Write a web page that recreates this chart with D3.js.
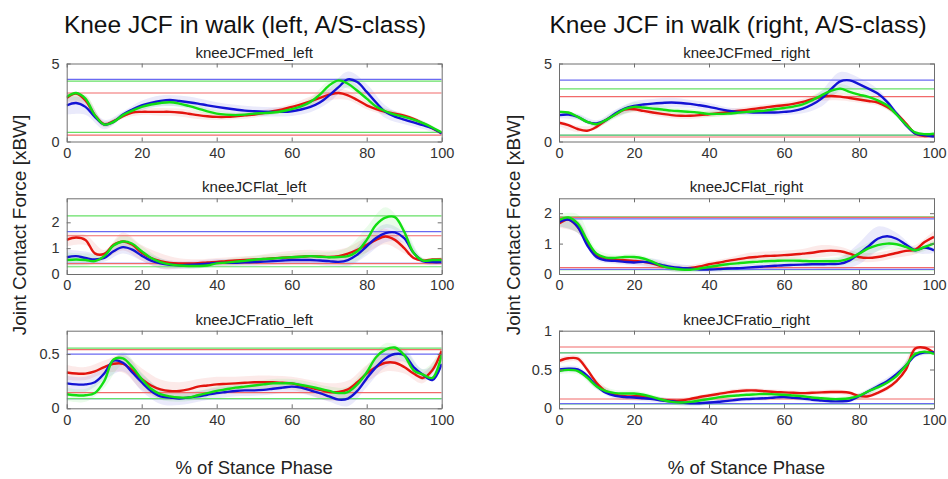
<!DOCTYPE html>
<html>
<head>
<meta charset="utf-8">
<script src="https://cdn.jsdelivr.net/npm/d3@7"></script>
<style>
body { margin: 0; background: #fff; }
text { font-family: "Liberation Sans", Arial, Helvetica, sans-serif; }
</style>
</head>
<body>
<script>
// % of stance phase, mean curves are sampled every 2.5 %, the SD bands every 5 %
var xPct = [0,2.5,5,7.5,10,12.5,15,17.5,20,22.5,25,27.5,30,32.5,35,37.5,40,42.5,45,47.5,50,
            52.5,55,57.5,60,62.5,65,67.5,70,72.5,75,77.5,80,82.5,85,87.5,90,92.5,95,97.5,100];
var xSd = [0,5,10,15,20,25,30,35,40,45,50,55,60,65,70,75,80,85,90,95,100];
var xTicks = [0,20,40,60,80,100];

// kneeJCFmed_left
var medLeftRed = [2.79,3.07,2.64,1.69,1.11,1.31,1.62,1.86,1.90,1.90,1.90,1.90,1.86,1.78,1.69,1.62,1.58,1.58,1.62,1.68,1.73,
                  1.82,1.94,2.06,2.22,2.38,2.58,2.80,3.00,3.11,2.96,2.66,2.32,2.08,1.90,1.78,1.65,1.45,1.16,0.85,0.52];
var medLeftBlue = [2.32,2.47,2.22,1.58,1.09,1.26,1.73,2.05,2.32,2.48,2.60,2.66,2.60,2.52,2.43,2.32,2.22,2.13,2.05,1.98,1.94,
                   1.91,1.90,1.90,1.94,2.05,2.22,2.50,2.96,3.49,3.98,3.81,3.18,2.50,1.90,1.60,1.40,1.22,1.05,0.85,0.52];
var medLeftGreen = [2.86,3.11,2.75,1.69,1.09,1.26,1.69,1.98,2.22,2.37,2.47,2.52,2.43,2.28,2.11,1.93,1.79,1.72,1.69,1.72,1.79,
                    1.82,1.86,1.94,2.07,2.25,2.54,3.00,3.60,3.92,3.70,3.25,2.75,2.25,1.94,1.72,1.58,1.40,1.18,0.90,0.58];
var medLeftSdRed = [0.3,0.3,0.2,0.15,0.2,0.25,0.25,0.25,0.2,0.2,0.2,0.2,0.2,0.3,0.35,0.3,0.25,0.2,0.15,0.15,0.1];
var medLeftSdBlue = [0.6,0.5,0.3,0.2,0.3,0.35,0.35,0.35,0.3,0.3,0.3,0.3,0.3,0.35,0.45,0.5,0.5,0.4,0.3,0.25,0.1];
var medLeftSdGreen = [0.25,0.25,0.15,0.15,0.2,0.2,0.2,0.2,0.2,0.15,0.15,0.15,0.15,0.25,0.3,0.3,0.25,0.2,0.15,0.15,0.1];
var medLeftRefs = [["blue",3.98],["green",3.87],["red",3.11],["green",0.58],["red",0.41]];

// kneeJCFmed_right
var medRightRed = [1.20,1.05,0.80,0.69,0.94,1.37,1.73,2.05,2.07,1.96,1.86,1.77,1.69,1.65,1.65,1.69,1.75,1.81,1.88,1.96,2.03,
                   2.11,2.18,2.26,2.32,2.41,2.54,2.71,2.86,2.92,2.88,2.79,2.69,2.60,2.50,2.22,1.79,1.16,0.52,0.35,0.41];
var medRightBlue = [1.69,1.73,1.58,1.26,1.16,1.37,1.79,2.11,2.28,2.37,2.43,2.47,2.50,2.47,2.41,2.32,2.22,2.09,1.98,1.90,1.88,
                    1.86,1.86,1.86,1.90,1.96,2.11,2.37,2.75,3.34,3.85,3.92,3.68,3.39,3.07,2.54,1.79,1.05,0.52,0.41,0.31];
var medRightGreen = [1.90,1.86,1.58,1.26,1.11,1.37,1.73,2.07,2.22,2.18,2.11,2.05,1.98,1.94,1.90,1.84,1.77,1.77,1.79,1.84,1.90,
                     1.94,1.98,2.07,2.15,2.24,2.38,2.64,2.96,3.24,3.39,3.18,3.01,2.86,2.64,2.32,1.73,1.09,0.58,0.47,0.50];
var medRightSdRed = [0.2,0.2,0.15,0.15,0.2,0.2,0.2,0.2,0.2,0.2,0.2,0.2,0.2,0.2,0.25,0.25,0.2,0.2,0.15,0.1,0.1];
var medRightSdBlue = [0.2,0.2,0.2,0.25,0.3,0.3,0.3,0.25,0.25,0.2,0.2,0.2,0.2,0.3,0.5,0.6,0.4,0.3,0.2,0.1,0.1];
var medRightSdGreen = [0.15,0.15,0.15,0.25,0.3,0.25,0.2,0.2,0.2,0.15,0.15,0.15,0.15,0.2,0.3,0.3,0.25,0.2,0.15,0.1,0.1];
var medRightRefs = [["blue",3.94],["green",3.37],["red",2.88],["blue",0.40],["green",0.41],["red",0.29]];

// kneeJCFlat_left
var latLeftRed = [1.32,1.41,1.32,0.80,0.78,1.13,1.26,1.13,0.82,0.62,0.50,0.43,0.41,0.41,0.42,0.45,0.47,0.50,0.52,0.54,0.56,
                  0.58,0.61,0.63,0.65,0.67,0.69,0.68,0.66,0.69,0.79,0.94,1.13,1.32,1.45,1.32,1.00,0.62,0.52,0.56,0.56];
var latLeftBlue = [0.65,0.69,0.62,0.56,0.62,0.88,1.04,0.94,0.71,0.52,0.41,0.36,0.34,0.35,0.37,0.40,0.43,0.43,0.43,0.45,0.46,
                   0.48,0.50,0.52,0.54,0.54,0.54,0.52,0.50,0.47,0.54,0.75,1.07,1.39,1.58,1.61,1.39,0.82,0.50,0.46,0.46];
var latLeftGreen = [0.54,0.56,0.54,0.50,0.69,1.10,1.26,1.17,0.88,0.62,0.46,0.37,0.33,0.31,0.31,0.33,0.41,0.44,0.48,0.51,0.55,
                    0.58,0.60,0.63,0.65,0.67,0.69,0.67,0.65,0.66,0.69,0.88,1.32,1.90,2.18,2.20,1.64,0.82,0.52,0.54,0.54];
var latLeftSdRed = [0.25,0.2,0.15,0.35,0.3,0.3,0.2,0.15,0.15,0.15,0.15,0.2,0.25,0.25,0.25,0.25,0.3,0.3,0.2,0.1,0.1];
var latLeftSdBlue = [0.3,0.25,0.15,0.25,0.2,0.2,0.15,0.15,0.15,0.15,0.15,0.15,0.15,0.15,0.2,0.25,0.35,0.35,0.2,0.1,0.1];
var latLeftSdGreen = [0.3,0.25,0.15,0.25,0.2,0.15,0.1,0.1,0.1,0.15,0.15,0.15,0.15,0.15,0.2,0.35,0.5,0.4,0.2,0.1,0.1];
var latLeftRefs = [["green",2.25],["blue",1.64],["red",1.48],["blue",0.41],["red",0.40],["green",0.28]];

// kneeJCFlat_right
var latRightRed = [1.66,1.79,1.55,1.00,0.62,0.51,0.47,0.45,0.43,0.40,0.34,0.25,0.21,0.18,0.20,0.25,0.32,0.37,0.43,0.48,0.53,
                   0.56,0.59,0.60,0.62,0.64,0.67,0.70,0.75,0.77,0.75,0.67,0.56,0.53,0.56,0.62,0.69,0.76,0.80,1.05,1.22];
var latRightBlue = [1.71,1.79,1.55,0.95,0.56,0.45,0.43,0.40,0.38,0.40,0.36,0.29,0.23,0.20,0.18,0.15,0.15,0.16,0.18,0.19,0.21,
                    0.23,0.25,0.27,0.29,0.30,0.31,0.32,0.32,0.33,0.34,0.45,0.67,0.91,1.16,1.24,1.16,0.97,0.78,0.87,0.78];
var latRightGreen = [1.77,1.86,1.66,1.11,0.67,0.54,0.53,0.56,0.56,0.51,0.40,0.26,0.19,0.15,0.14,0.18,0.23,0.28,0.32,0.35,0.38,
                     0.40,0.42,0.43,0.44,0.44,0.43,0.42,0.42,0.42,0.43,0.51,0.67,0.84,0.95,1.00,0.98,0.89,0.78,0.89,1.00];
var latRightSdRed = [0.15,0.2,0.1,0.1,0.1,0.1,0.1,0.1,0.1,0.1,0.15,0.15,0.15,0.15,0.2,0.15,0.15,0.15,0.15,0.15,0.2];
var latRightSdBlue = [0.15,0.2,0.1,0.1,0.1,0.15,0.15,0.1,0.1,0.1,0.1,0.1,0.1,0.1,0.15,0.2,0.35,0.4,0.2,0.1,0.1];
var latRightSdGreen = [0.2,0.3,0.15,0.1,0.1,0.1,0.1,0.1,0.1,0.1,0.1,0.1,0.1,0.1,0.1,0.15,0.2,0.2,0.15,0.1,0.1];
var latRightRefs = [["green",1.88],["red",1.86],["blue",1.81],["red",0.21],["green",0.14],["blue",0.15]];

// kneeJCFratio_left
var ratioLeftRed = [0.33,0.32,0.32,0.34,0.38,0.41,0.41,0.35,0.27,0.21,0.175,0.16,0.16,0.175,0.20,0.21,0.22,0.225,0.23,0.235,0.24,
                    0.24,0.24,0.235,0.23,0.21,0.19,0.17,0.15,0.15,0.175,0.24,0.32,0.38,0.42,0.42,0.38,0.32,0.28,0.35,0.53];
var ratioLeftBlue = [0.23,0.22,0.22,0.24,0.32,0.44,0.42,0.33,0.24,0.16,0.11,0.10,0.09,0.10,0.11,0.125,0.14,0.15,0.16,0.165,0.165,
                     0.17,0.18,0.19,0.20,0.19,0.165,0.14,0.11,0.08,0.09,0.16,0.275,0.38,0.46,0.50,0.49,0.38,0.31,0.26,0.41];
var ratioLeftGreen = [0.13,0.12,0.12,0.14,0.25,0.45,0.46,0.38,0.27,0.18,0.13,0.11,0.10,0.10,0.12,0.14,0.16,0.175,0.19,0.20,0.21,
                      0.22,0.23,0.23,0.23,0.215,0.20,0.18,0.16,0.14,0.15,0.22,0.33,0.47,0.54,0.56,0.49,0.35,0.31,0.28,0.49];
var ratioLeftSdRed = [0.07,0.06,0.06,0.08,0.1,0.09,0.08,0.07,0.07,0.06,0.06,0.06,0.06,0.07,0.08,0.08,0.08,0.08,0.06,0.05,0.04];
var ratioLeftSdBlue = [0.07,0.07,0.06,0.08,0.08,0.07,0.06,0.05,0.05,0.05,0.05,0.05,0.05,0.05,0.05,0.07,0.08,0.08,0.06,0.05,0.04];
var ratioLeftSdGreen = [0.06,0.06,0.06,0.06,0.06,0.05,0.04,0.04,0.04,0.04,0.04,0.04,0.04,0.04,0.04,0.05,0.06,0.06,0.05,0.05,0.04];
var ratioLeftRefs = [["green",0.555],["red",0.54],["blue",0.50],["red",0.144],["blue",0.088],["green",0.09]];

// kneeJCFratio_right
var ratioRightRed = [0.61,0.645,0.64,0.50,0.33,0.22,0.175,0.155,0.155,0.155,0.13,0.11,0.10,0.10,0.12,0.145,0.165,0.185,0.205,0.22,0.23,
                     0.23,0.22,0.21,0.205,0.20,0.195,0.20,0.205,0.21,0.21,0.20,0.16,0.155,0.20,0.26,0.35,0.50,0.77,0.78,0.715];
var ratioRightBlue = [0.50,0.51,0.50,0.42,0.29,0.20,0.16,0.145,0.14,0.13,0.12,0.10,0.09,0.075,0.065,0.065,0.075,0.085,0.095,0.11,0.12,
                      0.125,0.13,0.14,0.145,0.135,0.125,0.11,0.10,0.09,0.09,0.10,0.155,0.22,0.285,0.35,0.44,0.55,0.68,0.72,0.72];
var ratioRightGreen = [0.48,0.495,0.48,0.395,0.285,0.22,0.195,0.19,0.19,0.175,0.145,0.11,0.083,0.075,0.083,0.10,0.12,0.14,0.155,0.165,0.175,
                       0.18,0.185,0.18,0.175,0.165,0.155,0.14,0.13,0.12,0.12,0.13,0.16,0.22,0.27,0.33,0.415,0.55,0.70,0.73,0.70];
var ratioRightSdRed = [0.04,0.04,0.04,0.03,0.03,0.03,0.03,0.03,0.03,0.03,0.03,0.03,0.03,0.03,0.03,0.03,0.03,0.03,0.03,0.03,0.02];
var ratioRightSdBlue = [0.04,0.04,0.04,0.04,0.04,0.04,0.04,0.04,0.03,0.03,0.03,0.03,0.03,0.03,0.03,0.03,0.04,0.04,0.04,0.03,0.02];
var ratioRightSdGreen = [0.04,0.04,0.04,0.04,0.04,0.03,0.03,0.03,0.03,0.03,0.03,0.03,0.03,0.03,0.03,0.03,0.03,0.04,0.04,0.03,0.02];
var ratioRightRefs = [["red",0.79],["blue",0.716],["green",0.714],["red",0.12],["green",0.057],["blue",0.06]];

var figTitles = ["Knee JCF in walk (left, A/S-class)", "Knee JCF in walk (right, A/S-class)"];

// layout
var W = 948, H = 479;
var cols = [{x0: 66.7, x1: 441.7, title: 245, ylab: 26}, {x0: 559, x1: 934, title: 738, ylab: 520}];
var rows = [{y0: 63.5, y1: 141.5}, {y0: 198.3, y1: 274}, {y0: 330.7, y1: 408.3}];

var lineColor = {red: "#e3140e", blue: "#1313d4", green: "#12de12"};
var refColor = {red: "#f26a6a", blue: "#6a6af2", green: "#66e066"};

var panels = [
    {name: "kneeJCFmed_left", col: 0, row: 0, ymax: 5, yticks: [0, 5],
     red: medLeftRed, blue: medLeftBlue, green: medLeftGreen,
     sd: {red: medLeftSdRed, blue: medLeftSdBlue, green: medLeftSdGreen}, refs: medLeftRefs},
    {name: "kneeJCFmed_right", col: 1, row: 0, ymax: 5, yticks: [0, 5],
     red: medRightRed, blue: medRightBlue, green: medRightGreen,
     sd: {red: medRightSdRed, blue: medRightSdBlue, green: medRightSdGreen}, refs: medRightRefs},
    {name: "kneeJCFlat_left", col: 0, row: 1, ymax: 2.93, yticks: [0, 1, 2],
     red: latLeftRed, blue: latLeftBlue, green: latLeftGreen,
     sd: {red: latLeftSdRed, blue: latLeftSdBlue, green: latLeftSdGreen}, refs: latLeftRefs},
    {name: "kneeJCFlat_right", col: 1, row: 1, ymax: 2.49, yticks: [0, 1, 2],
     red: latRightRed, blue: latRightBlue, green: latRightGreen,
     sd: {red: latRightSdRed, blue: latRightSdBlue, green: latRightSdGreen}, refs: latRightRefs},
    {name: "kneeJCFratio_left", col: 0, row: 2, ymax: 0.715, yticks: [0, 0.5],
     red: ratioLeftRed, blue: ratioLeftBlue, green: ratioLeftGreen,
     sd: {red: ratioLeftSdRed, blue: ratioLeftSdBlue, green: ratioLeftSdGreen}, refs: ratioLeftRefs},
    {name: "kneeJCFratio_right", col: 1, row: 2, ymax: 1, yticks: [0, 0.5, 1],
     red: ratioRightRed, blue: ratioRightBlue, green: ratioRightGreen,
     sd: {red: ratioRightSdRed, blue: ratioRightSdBlue, green: ratioRightSdGreen}, refs: ratioRightRefs}
];

var svg = d3.select("body").append("svg")
    .attr("width", W)
    .attr("height", H);

var defs = svg.append("defs");
var fmt = d3.format("~g");
var tickLen = 4;

panels.forEach(function (p, pi) {
    var c = cols[p.col], r = rows[p.row];
    var x = d3.scaleLinear().domain([0, 100]).range([c.x0, c.x1]);
    var y = d3.scaleLinear().domain([0, p.ymax]).range([r.y1, r.y0]);

    defs.append("clipPath").attr("id", "clip" + pi)
        .append("rect")
        .attr("x", c.x0).attr("y", r.y0)
        .attr("width", c.x1 - c.x0).attr("height", r.y1 - r.y0);

    var g = svg.append("g");
    var plot = g.append("g").attr("clip-path", "url(#clip" + pi + ")");

    // shaded SD bands
    ["red", "blue", "green"].forEach(function (s) {
        var band = xSd.map(function (xv, i) {
            var m = p[s][xPct.indexOf(xv)];
            return {x: xv, lo: m - p.sd[s][i], hi: m + p.sd[s][i]};
        });
        plot.append("path")
            .datum(band)
            .attr("fill", lineColor[s])
            .attr("fill-opacity", 0.09)
            .attr("d", d3.area()
                .curve(d3.curveCatmullRom)
                .x(function (d) { return x(d.x); })
                .y0(function (d) { return y(d.lo); })
                .y1(function (d) { return y(d.hi); }));
    });

    // reference lines
    plot.selectAll(".ref")
        .data(p.refs)
        .enter().append("line")
        .attr("class", "ref")
        .attr("x1", c.x0).attr("x2", c.x1)
        .attr("y1", function (d) { return y(d[1]); })
        .attr("y2", function (d) { return y(d[1]); })
        .attr("stroke", function (d) { return refColor[d[0]]; })
        .attr("stroke-width", 1.2);

    // mean curves
    ["red", "blue", "green"].forEach(function (s) {
        plot.append("path")
            .datum(p[s])
            .attr("fill", "none")
            .attr("stroke", lineColor[s])
            .attr("stroke-width", 2.4)
            .attr("stroke-linejoin", "round")
            .attr("d", d3.line()
                .curve(d3.curveCatmullRom)
                .x(function (d, i) { return x(xPct[i]); })
                .y(function (d) { return y(d); }));
    });

    // axes, MATLAB style box with inward ticks on all sides
    var axB = g.append("g").attr("transform", "translate(0," + r.y1 + ")")
        .call(d3.axisBottom(x).tickValues(xTicks).tickSizeInner(-tickLen).tickSizeOuter(0).tickPadding(6).tickFormat(fmt));
    var axT = g.append("g").attr("transform", "translate(0," + r.y0 + ")")
        .call(d3.axisTop(x).tickValues(xTicks).tickSizeInner(-tickLen).tickSizeOuter(0).tickFormat(""));
    var axL = g.append("g").attr("transform", "translate(" + c.x0 + ",0)")
        .call(d3.axisLeft(y).tickValues(p.yticks).tickSizeInner(-tickLen).tickSizeOuter(0).tickPadding(7).tickFormat(fmt));
    var axR = g.append("g").attr("transform", "translate(" + c.x1 + ",0)")
        .call(d3.axisRight(y).tickValues(p.yticks).tickSizeInner(-tickLen).tickSizeOuter(0).tickFormat(""));

    [axB, axT, axL, axR].forEach(function (a) {
        a.select(".domain").attr("stroke", "#6e6e6e").attr("stroke-width", 1);
        a.selectAll(".tick line").attr("stroke", "#6e6e6e");
        a.selectAll("text")
            .style("font-family", '"Liberation Sans", Arial, sans-serif')
            .style("font-size", "14.5px")
            .attr("fill", "#333");
    });

    g.append("text")
        .attr("x", (c.x0 + c.x1) / 2)
        .attr("y", r.y0 - 6)
        .attr("text-anchor", "middle")
        .style("font-size", "15px")
        .attr("fill", "#222")
        .text(p.name);
});

cols.forEach(function (c, ci) {
    svg.append("text")
        .attr("x", c.title)
        .attr("y", 33)
        .attr("text-anchor", "middle")
        .style("font-size", "24.5px")
        .attr("fill", "#111")
        .text(figTitles[ci]);

    svg.append("text")
        .attr("transform", "translate(" + c.ylab + ",225) rotate(-90)")
        .attr("text-anchor", "middle")
        .style("font-size", "19px")
        .attr("fill", "#222")
        .text("Joint Contact Force [xBW]");

    svg.append("text")
        .attr("x", (c.x0 + c.x1) / 2)
        .attr("y", 474)
        .attr("text-anchor", "middle")
        .style("font-size", "18.5px")
        .attr("fill", "#222")
        .text("% of Stance Phase");
});
</script>
</body>
</html>
